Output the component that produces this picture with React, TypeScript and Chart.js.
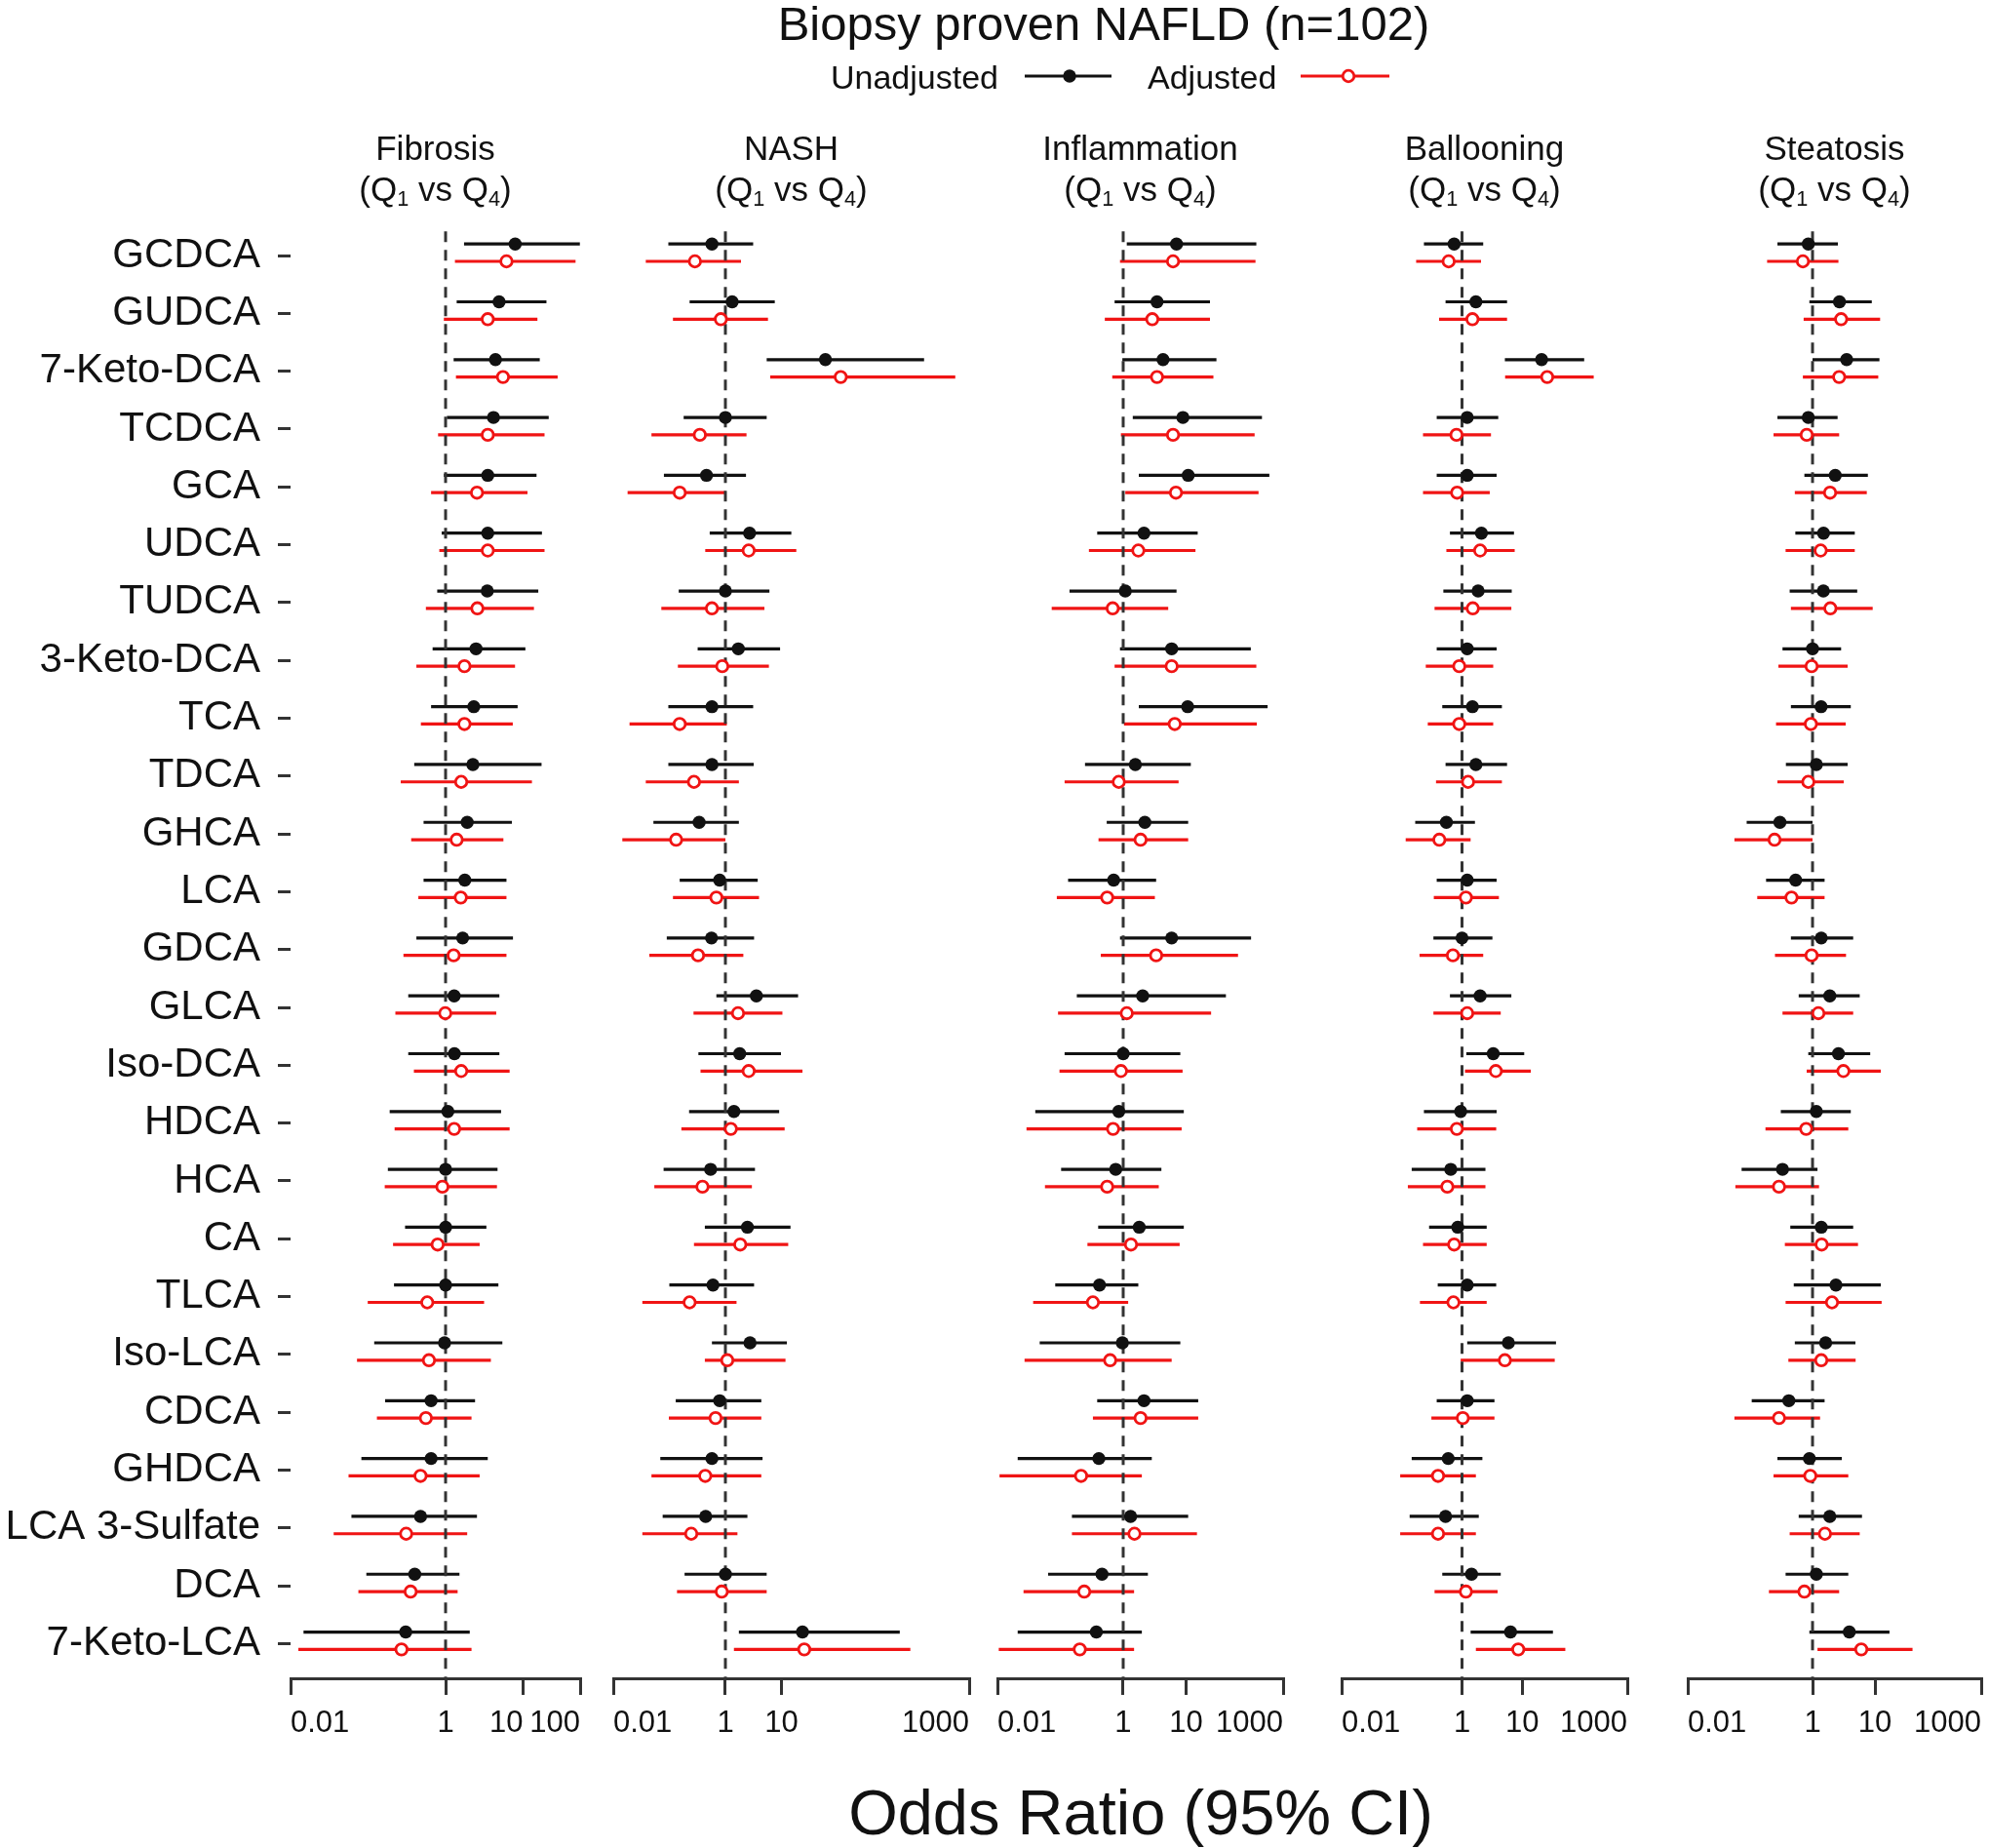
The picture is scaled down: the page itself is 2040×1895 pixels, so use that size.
import React, { useEffect, useRef } from 'react';
import { Chart, registerables } from 'chart.js';

Chart.register(...registerables);

const FONT = '"Liberation Sans", Arial, Helvetica, sans-serif';
const BLACK = '#111111';
const RED = '#f01414';

const ROWS = ['GCDCA', 'GUDCA', '7-Keto-DCA', 'TCDCA', 'GCA', 'UDCA', 'TUDCA', '3-Keto-DCA', 'TCA', 'TDCA', 'GHCA', 'LCA', 'GDCA', 'GLCA', 'Iso-DCA', 'HDCA', 'HCA', 'CA', 'TLCA', 'Iso-LCA', 'CDCA', 'GHDCA', 'LCA 3-Sulfate', 'DCA', '7-Keto-LCA'];

const PANEL_TITLES = ['Fibrosis', 'NASH', 'Inflammation', 'Ballooning', 'Steatosis'];

// Fibrosis
const FIB_UNADJ_OR = [7.9, 4.9, 4.4, 4.15, 3.5, 3.5, 3.45, 2.47, 2.31, 2.25, 1.9, 1.77, 1.66, 1.29, 1.3, 1.07, 1.0, 1.0, 1.0, 0.97, 0.65, 0.65, 0.475, 0.40, 0.306];
const FIB_UNADJ_LO = [1.73, 1.39, 1.27, 1.04, 0.95, 0.89, 0.78, 0.68, 0.65, 0.394, 0.52, 0.52, 0.42, 0.33, 0.33, 0.19, 0.18, 0.30, 0.216, 0.12, 0.166, 0.082, 0.061, 0.095, 0.0147];
const FIB_UNADJ_HI = [54, 20, 16.4, 21.4, 14.9, 17.5, 15.7, 10.7, 8.5, 17.3, 7.17, 6.1, 7.4, 4.94, 4.94, 5.2, 4.68, 3.36, 4.8, 5.4, 2.4, 3.5, 2.54, 1.51, 2.05];
const FIB_ADJ_OR = [6.1, 3.5, 5.5, 3.5, 2.54, 3.5, 2.57, 1.75, 1.75, 1.59, 1.39, 1.57, 1.27, 0.99, 1.59, 1.29, 0.91, 0.79, 0.58, 0.61, 0.557, 0.475, 0.31, 0.354, 0.27];
const FIB_ADJ_LO = [1.32, 0.95, 1.36, 0.80, 0.65, 0.83, 0.557, 0.42, 0.48, 0.264, 0.36, 0.445, 0.286, 0.225, 0.39, 0.22, 0.164, 0.21, 0.099, 0.072, 0.13, 0.056, 0.036, 0.075, 0.0126];
const FIB_ADJ_HI = [47.5, 15.3, 27.9, 18.9, 11.4, 18.9, 13.8, 7.87, 7.36, 13, 5.57, 6.1, 6.1, 4.5, 6.7, 6.7, 4.6, 2.75, 3.14, 3.84, 2.16, 2.75, 1.9, 1.43, 2.16];

// NASH
const NASH_UNADJ_OR = [0.575, 1.32, 60.8, 1.0, 0.46, 2.7, 1.0, 1.7, 0.575, 0.575, 0.34, 0.79, 0.565, 3.57, 1.8, 1.42, 0.545, 2.47, 0.6, 2.75, 0.79, 0.575, 0.445, 1.0, 23.7];
const NASH_UNADJ_LO = [0.096, 0.23, 5.45, 0.18, 0.08, 0.525, 0.147, 0.32, 0.096, 0.096, 0.052, 0.153, 0.09, 0.69, 0.33, 0.225, 0.079, 0.43, 0.1, 0.575, 0.13, 0.069, 0.076, 0.187, 1.74];
const NASH_UNADJ_HI = [3.13, 7.6, 3500, 5.45, 2.33, 15, 6.1, 9.45, 3.13, 3.2, 1.74, 3.77, 3.25, 19.8, 9.8, 9.1, 3.37, 14.5, 3.25, 12.5, 4.37, 4.6, 2.47, 5.45, 1290];
const NASH_ADJ_OR = [0.286, 0.83, 114, 0.35, 0.153, 2.6, 0.575, 0.88, 0.153, 0.275, 0.132, 0.69, 0.325, 1.68, 2.6, 1.25, 0.39, 1.84, 0.23, 1.08, 0.667, 0.437, 0.246, 0.86, 25.5];
const NASH_ADJ_LO = [0.038, 0.116, 6.3, 0.048, 0.018, 0.437, 0.072, 0.142, 0.0195, 0.038, 0.0145, 0.116, 0.044, 0.27, 0.36, 0.164, 0.054, 0.275, 0.033, 0.43, 0.098, 0.048, 0.033, 0.137, 1.42];
const NASH_ADJ_HI = [1.9, 5.75, 12600, 2.38, 1.0, 18.4, 4.97, 5.97, 1.06, 1.74, 1.0, 3.98, 2.09, 10.4, 23.7, 11.4, 2.97, 13.2, 1.58, 11.8, 4.37, 4.37, 1.64, 5.45, 1990];

// Inflammation
const INF_UNADJ_OR = [7.05, 3.45, 4.3, 8.9, 10.8, 2.14, 1.08, 5.9, 10.6, 1.56, 2.21, 0.705, 5.9, 2.04, 1.0, 0.85, 0.76, 1.8, 0.42, 0.97, 2.14, 0.41, 1.31, 0.46, 0.374];
const INF_UNADJ_LO = [1.14, 0.73, 0.97, 1.42, 1.77, 0.386, 0.14, 0.89, 1.77, 0.247, 0.547, 0.133, 0.89, 0.183, 0.117, 0.04, 0.103, 0.4, 0.083, 0.047, 0.386, 0.021, 0.153, 0.064, 0.021];
const INF_UNADJ_HI = [131, 24, 30.4, 161, 211, 15.3, 7.05, 107, 198, 11.9, 10.8, 3.34, 108, 43, 8.1, 9.2, 4.05, 9.2, 1.74, 8.1, 15.6, 2.85, 10.8, 2.47, 1.98];
const INF_ADJ_OR = [6.2, 2.9, 3.45, 6.2, 6.9, 1.74, 0.68, 5.9, 6.6, 0.85, 1.89, 0.556, 3.34, 1.14, 0.92, 0.69, 0.556, 1.33, 0.33, 0.62, 1.89, 0.214, 1.51, 0.24, 0.204];
const INF_ADJ_LO = [0.89, 0.51, 0.67, 0.92, 1.08, 0.285, 0.073, 0.73, 1.03, 0.117, 0.405, 0.088, 0.44, 0.092, 0.097, 0.029, 0.057, 0.27, 0.037, 0.027, 0.33, 0.0108, 0.153, 0.026, 0.0105];
const INF_ADJ_HI = [127, 24, 27.2, 123, 142, 14.1, 5.2, 131, 133, 7.6, 10.8, 3.19, 67, 25, 8.8, 8.5, 3.68, 7.9, 1.2, 5.9, 15.6, 1.98, 14.9, 1.49, 1.49];

// Ballooning
const BAL_UNADJ_OR = [0.74, 1.7, 21, 1.22, 1.22, 2.1, 1.85, 1.22, 1.49, 1.7, 0.55, 1.22, 1.0, 2.0, 3.3, 0.95, 0.65, 0.85, 1.22, 5.9, 1.22, 0.59, 0.533, 1.44, 6.4];
const BAL_UNADJ_LO = [0.233, 0.533, 5.15, 0.38, 0.38, 0.63, 0.49, 0.38, 0.47, 0.533, 0.167, 0.38, 0.335, 0.63, 1.18, 0.233, 0.146, 0.284, 0.395, 1.22, 0.38, 0.146, 0.135, 0.47, 1.39];
const BAL_UNADJ_HI = [2.25, 5.6, 107, 4.0, 3.76, 7.3, 6.7, 3.76, 4.6, 5.6, 1.64, 3.76, 3.2, 6.6, 10.8, 3.76, 2.45, 2.57, 3.7, 36.4, 3.46, 2.18, 1.9, 4.4, 32.4];
const BAL_ADJ_OR = [0.6, 1.49, 26, 0.81, 0.83, 2.0, 1.51, 0.9, 0.9, 1.26, 0.42, 1.16, 0.706, 1.22, 3.64, 0.82, 0.57, 0.74, 0.72, 5.15, 1.03, 0.4, 0.4, 1.16, 8.6];
const BAL_ADJ_LO = [0.173, 0.416, 5.2, 0.225, 0.225, 0.55, 0.35, 0.25, 0.27, 0.37, 0.116, 0.34, 0.197, 0.335, 1.12, 0.18, 0.126, 0.225, 0.2, 0.95, 0.31, 0.094, 0.094, 0.35, 1.7];
const BAL_ADJ_HI = [2.07, 5.6, 154, 3.03, 2.89, 7.5, 6.6, 3.3, 3.3, 4.6, 1.39, 4.1, 2.25, 4.4, 13.9, 3.7, 2.45, 2.57, 2.57, 34.7, 3.46, 1.7, 1.7, 3.9, 52];

// Steatosis
const STE_UNADJ_OR = [0.855, 2.7, 3.52, 0.855, 2.31, 1.5, 1.49, 1.0, 1.37, 1.15, 0.3, 0.536, 1.38, 1.89, 2.6, 1.15, 0.33, 1.38, 2.37, 1.62, 0.417, 0.89, 1.89, 1.15, 3.88];
const STE_UNADJ_LO = [0.274, 0.89, 1.0, 0.274, 0.74, 0.53, 0.43, 0.33, 0.45, 0.374, 0.088, 0.18, 0.45, 0.6, 0.855, 0.31, 0.073, 0.44, 0.5, 0.52, 0.106, 0.274, 0.6, 0.37, 0.89];
const STE_UNADJ_HI = [2.55, 8.9, 11.8, 2.52, 7.7, 4.75, 5.2, 2.87, 4.1, 3.65, 1.0, 1.56, 4.48, 5.7, 8.4, 4.1, 1.2, 4.48, 12.4, 4.87, 1.56, 2.94, 6.2, 3.74, 17.1];
const STE_ADJ_OR = [0.7, 2.87, 2.67, 0.806, 1.91, 1.35, 1.93, 0.965, 0.94, 0.855, 0.246, 0.46, 0.965, 1.24, 3.12, 0.79, 0.29, 1.4, 2.05, 1.38, 0.29, 0.92, 1.58, 0.74, 6.04];
const STE_ADJ_LO = [0.187, 0.72, 0.7, 0.237, 0.52, 0.37, 0.45, 0.284, 0.26, 0.274, 0.056, 0.13, 0.25, 0.33, 0.806, 0.176, 0.058, 0.36, 0.37, 0.41, 0.056, 0.237, 0.43, 0.2, 1.2];
const STE_ADJ_HI = [2.6, 12.1, 11.3, 2.67, 7.4, 4.75, 9.2, 3.65, 3.4, 3.16, 1.0, 1.56, 3.44, 4.48, 12.4, 3.74, 1.27, 5.35, 12.8, 4.9, 1.32, 3.74, 5.7, 2.67, 40];

// x tick labels for each panel (first, 1, 10, axis end)
const X_TICK_LABELS = [
  ['0.01', '1', '10    ', '100'],
  ['0.01', '1', '10', '1000'],
  ['0.01', '1', '10', '1000'],
  ['0.01', '1', '10', '1000'],
  ['0.01', '1', '10', '1000'],
];

// axis upper limits of each panel
const X_MAX = [54.4, 22280, 349, 556, 504];

const SERIES = [
  [FIB_UNADJ_OR, FIB_UNADJ_LO, FIB_UNADJ_HI, FIB_ADJ_OR, FIB_ADJ_LO, FIB_ADJ_HI],
  [NASH_UNADJ_OR, NASH_UNADJ_LO, NASH_UNADJ_HI, NASH_ADJ_OR, NASH_ADJ_LO, NASH_ADJ_HI],
  [INF_UNADJ_OR, INF_UNADJ_LO, INF_UNADJ_HI, INF_ADJ_OR, INF_ADJ_LO, INF_ADJ_HI],
  [BAL_UNADJ_OR, BAL_UNADJ_LO, BAL_UNADJ_HI, BAL_ADJ_OR, BAL_ADJ_LO, BAL_ADJ_HI],
  [STE_UNADJ_OR, STE_UNADJ_LO, STE_UNADJ_HI, STE_ADJ_OR, STE_ADJ_LO, STE_ADJ_HI],
];

// layout (pixels)
const AREA_LEFT = [298, 629, 1023, 1376, 1731];
const AREA_RIGHT = [595, 994, 1316, 1669, 2032];
const CANVAS_H = 1800;
const Y_MIN = -0.65;
const Y_MAX = 24.6;
const AREA_TOP = 223.5;
const X_AXIS_H = 79;
const OFF_U = -0.2;
const OFF_A = 0.1;

function segments(lo: number[], hi: number[], off: number) {
  const pts: { x: number; y: number }[] = [];
  lo.forEach((l, i) => {
    pts.push({ x: l, y: i + off }, { x: hi[i], y: i + off }, { x: NaN, y: NaN });
  });
  return pts;
}

function points(vals: number[], off: number) {
  return vals.map((v, i) => ({ x: v, y: i + off }));
}

function PanelChart({ idx }: { idx: number }) {
  const ref = useRef<HTMLCanvasElement>(null);
  const first = idx === 0;
  const padL = first ? 0 : 15;
  const padR = 15;
  const canvasLeft = first ? 0 : AREA_LEFT[idx] - padL;
  const width = AREA_RIGHT[idx] + padR - canvasLeft;

  useEffect(() => {
    const [uOR, uLo, uHi, aOR, aLo, aHi] = SERIES[idx];
    const max = X_MAX[idx];
    const labels = X_TICK_LABELS[idx];
    const chart = new Chart(ref.current as HTMLCanvasElement, {
      type: 'scatter',
      data: {
        datasets: [
          { label: 'ci-u', data: segments(uLo, uHi, OFF_U), showLine: true, spanGaps: false, borderColor: BLACK, borderWidth: 3.2, pointRadius: 0, order: 6 } as any,
          { label: 'ci-a', data: segments(aLo, aHi, OFF_A), showLine: true, spanGaps: false, borderColor: RED, borderWidth: 3.2, pointRadius: 0, order: 5 } as any,
          { label: 'ref', data: [{ x: 1, y: -0.42 }, { x: 1, y: Y_MAX }], showLine: true, borderColor: '#333', borderWidth: 3, borderDash: [11, 8], pointRadius: 0, order: 4 } as any,
          { label: 'Unadjusted', data: points(uOR, OFF_U), showLine: false, pointRadius: 6.7, pointBackgroundColor: BLACK, pointBorderColor: BLACK, pointBorderWidth: 0, order: 2 } as any,
          { label: 'Adjusted', data: points(aOR, OFF_A), showLine: false, pointRadius: 5.8, pointBackgroundColor: '#ffffff', pointBorderColor: RED, pointBorderWidth: 2.8, order: 1 } as any,
        ],
      },
      options: {
        responsive: false,
        animation: false,
        events: [],
        layout: { padding: { left: padL, right: padR, top: AREA_TOP, bottom: 0 } },
        plugins: { legend: { display: false }, tooltip: { enabled: false }, title: { display: false } },
        scales: {
          x: {
            type: 'logarithmic',
            min: 0.01,
            max,
            position: 'bottom',
            afterBuildTicks: (s: any) => {
              s.ticks = [0.01, 1, 10, max].map((v) => ({ value: v }));
            },
            afterFit: (s: any) => {
              s.height = X_AXIS_H;
              s.paddingLeft = 0;
              s.paddingRight = 0;
            },
            ticks: {
              autoSkip: false,
              maxRotation: 0,
              minRotation: 0,
              align: 'inner',
              padding: 11,
              color: '#111',
              font: { family: FONT, size: 31 },
              callback: (_v: any, i: number) => labels[i],
            },
            grid: { drawOnChartArea: false, drawTicks: true, tickLength: 17, color: '#333', lineWidth: 3 },
            border: { display: true, color: '#333', width: 3 },
          } as any,
          y: {
            type: 'linear',
            reverse: true,
            min: Y_MIN,
            max: Y_MAX,
            display: first,
            afterBuildTicks: (s: any) => {
              s.ticks = ROWS.map((_r, i) => ({ value: i }));
            },
            afterFit: (s: any) => {
              if (first) s.width = AREA_LEFT[0];
            },
            ticks: {
              autoSkip: false,
              padding: 18,
              color: '#111',
              font: { family: FONT, size: 42 },
              callback: (v: any) => ROWS[v as number] ?? '',
            },
            grid: { drawOnChartArea: false, drawTicks: true, tickLength: 13, color: '#333', lineWidth: 3 },
            border: { display: false },
          } as any,
        },
      },
    });
    return () => chart.destroy();
  }, [idx]);

  return (
    <canvas
      ref={ref}
      width={width}
      height={CANVAS_H}
      style={{ position: 'absolute', left: canvasLeft, top: 0, width, height: CANVAS_H, display: 'block' }}
    />
  );
}

const textBase: React.CSSProperties = {
  position: 'absolute',
  fontFamily: FONT,
  lineHeight: 1,
  whiteSpace: 'nowrap',
  color: '#111',
};

const subStyle: React.CSSProperties = { fontSize: '0.62em', verticalAlign: '-0.25em', lineHeight: 0 };

export default function App() {
  useEffect(() => {
    document.body.style.margin = '0';
  }, []);
  return (
    <div style={{ position: 'absolute', left: 0, top: 0, width: 2040, height: 1895, background: '#fff', overflow: 'hidden' }}>
      {PANEL_TITLES.map((_t, i) => (
        <PanelChart key={i} idx={i} />
      ))}
      <div style={{ ...textBase, left: 1132, top: 0, fontSize: 49, transform: 'translateX(-50%)' }}>Biopsy proven NAFLD (n=102)</div>
      <div style={{ ...textBase, left: 852, top: 62, fontSize: 34 }}>Unadjusted</div>
      <svg style={{ position: 'absolute', left: 1051, top: 66 }} width={89} height={24}>
        <line x1={0} y1={12} x2={89} y2={12} stroke={BLACK} strokeWidth={3.2} />
        <circle cx={46} cy={12} r={6.7} fill={BLACK} />
      </svg>
      <div style={{ ...textBase, left: 1177, top: 62, fontSize: 34 }}>Adjusted</div>
      <svg style={{ position: 'absolute', left: 1334, top: 66 }} width={91} height={24}>
        <line x1={0} y1={12} x2={91} y2={12} stroke={RED} strokeWidth={3.2} />
        <circle cx={49} cy={12} r={5.8} fill="#fff" stroke={RED} strokeWidth={2.8} />
      </svg>
      {PANEL_TITLES.map((t, i) => {
        const cx = (AREA_LEFT[i] + AREA_RIGHT[i]) / 2;
        return (
          <React.Fragment key={t}>
            <div style={{ ...textBase, left: cx, top: 134, fontSize: 35, transform: 'translateX(-50%)' }}>{t}</div>
            <div style={{ ...textBase, left: cx, top: 176, fontSize: 35, transform: 'translateX(-50%)' }}>
              (Q<sub style={subStyle}>1</sub> vs Q<sub style={subStyle}>4</sub>)
            </div>
          </React.Fragment>
        );
      })}
      <div style={{ ...textBase, left: 1170, top: 1826, fontSize: 65, transform: 'translateX(-50%)' }}>Odds Ratio (95% CI)</div>
    </div>
  );
}
